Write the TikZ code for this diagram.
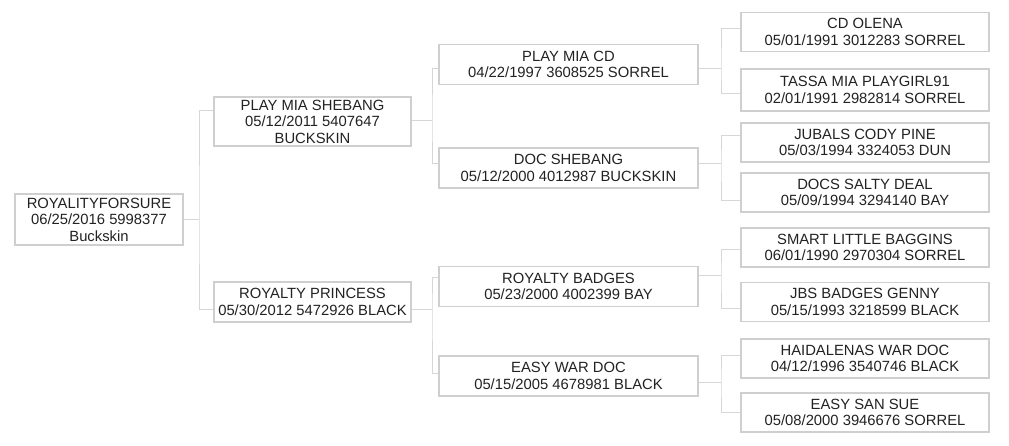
\documentclass[tikz,border=0pt]{standalone}
\usepackage{fontspec}
\setmainfont{Liberation Sans}
\begin{document}
\begin{tikzpicture}[x=1pt,y=-1pt,
  box/.style={draw=boxgray,line width=1.8pt,fill=white,inner sep=0pt,align=center,
    font=\fontsize{14.8}{16.5}\selectfont,text=txtgray},
  g1/.style={box,minimum width=197pt},
  g2/.style={box,minimum width=259pt,minimum height=40pt},
  g3/.style={box,minimum width=248pt,minimum height=39pt},
  conn/.style={draw=linegray,line width=1pt}]
\definecolor{boxgray}{HTML}{CFCFCF}
\definecolor{linegray}{HTML}{D6D6D6}
\definecolor{txtgray}{HTML}{222222}
\useasboundingbox[fill=white] (0,0) rectangle (1009,445);
% nodes
\node[box,minimum width=168pt,minimum height=51pt] (root) at (99,219.5) {ROYALITYFORSURE\\06/25/2016 5998377\\Buckskin};
\node[g1,minimum height=49pt] (s1) at (312.5,121.5) {PLAY MIA SHEBANG\\05/12/2011 5407647\\BUCKSKIN};
\node[g1,minimum height=40pt] (d1) at (312.5,302) {ROYALTY PRINCESS\\05/30/2012 5472926 BLACK};
\node[g2] (ss) at (568.5,64.5) {PLAY MIA CD\\04/22/1997 3608525 SORREL};
\node[g2] (sd) at (568.5,168) {DOC SHEBANG\\05/12/2000 4012987 BUCKSKIN};
\node[g2] (ds) at (568.5,286.5) {ROYALTY BADGES\\05/23/2000 4002399 BAY};
\node[g2] (dd) at (568.5,376) {EASY WAR DOC\\05/15/2005 4678981 BLACK};
\node[g3] (sss) at (865,32) {CD OLENA\\05/01/1991 3012283 SORREL};
\node[g3,minimum height=42pt] (ssd) at (865,90) {TASSA MIA PLAYGIRL91\\02/01/1991 2982814 SORREL};
\node[g3] (sds) at (865,142.5) {JUBALS CODY PINE\\05/03/1994 3324053 DUN};
\node[g3] (sdd) at (865,192.5) {DOCS SALTY DEAL\\05/09/1994 3294140 BAY};
\node[g3] (dss) at (865,247.5) {SMART LITTLE BAGGINS\\06/01/1990 2970304 SORREL};
\node[g3] (dsd) at (865,302) {JBS BADGES GENNY\\05/15/1993 3218599 BLACK};
\node[g3] (dds) at (865,358.5) {HAIDALENAS WAR DOC\\04/12/1996 3540746 BLACK};
\node[g3] (ddd) at (865,412.5) {EASY SAN SUE\\05/08/2000 3946676 SORREL};
% connectors
\coordinate (j0) at (199,219.5);
\draw[conn] (root.east) -- (j0);
\draw[conn] (s1.west |- 0,110) -| (j0) |- (d1.west |- 0,309);
\coordinate (j1) at (432,120);
\draw[conn] (s1.east |- j1) -- (j1);
\draw[conn] (ss.west |- 0,68) -| (j1) |- (sd.west |- 0,163);
\coordinate (j2) at (432,309);
\draw[conn] (d1.east |- j2) -- (j2);
\draw[conn] (ds.west |- 0,277) -| (j2) |- (dd.west |- 0,373);
\coordinate (j3) at (721,68);
\draw[conn] (ss.east |- j3) -- (j3);
\draw[conn] (sss.west |- 0,28) -| (j3) |- (ssd.west |- 0,93);
\coordinate (j4) at (721,163);
\draw[conn] (sd.east |- j4) -- (j4);
\draw[conn] (sds.west |- 0,135) -| (j4) |- (sdd.west |- 0,200);
\coordinate (j5) at (721,275);
\draw[conn] (ds.east |- j5) -- (j5);
\draw[conn] (dss.west |- 0,249) -| (j5) |- (dsd.west |- 0,308);
\coordinate (j6) at (721,382);
\draw[conn] (dd.east |- j6) -- (j6);
\draw[conn] (dds.west |- 0,355) -| (j6) |- (ddd.west |- 0,412);
\end{tikzpicture}
\end{document}
